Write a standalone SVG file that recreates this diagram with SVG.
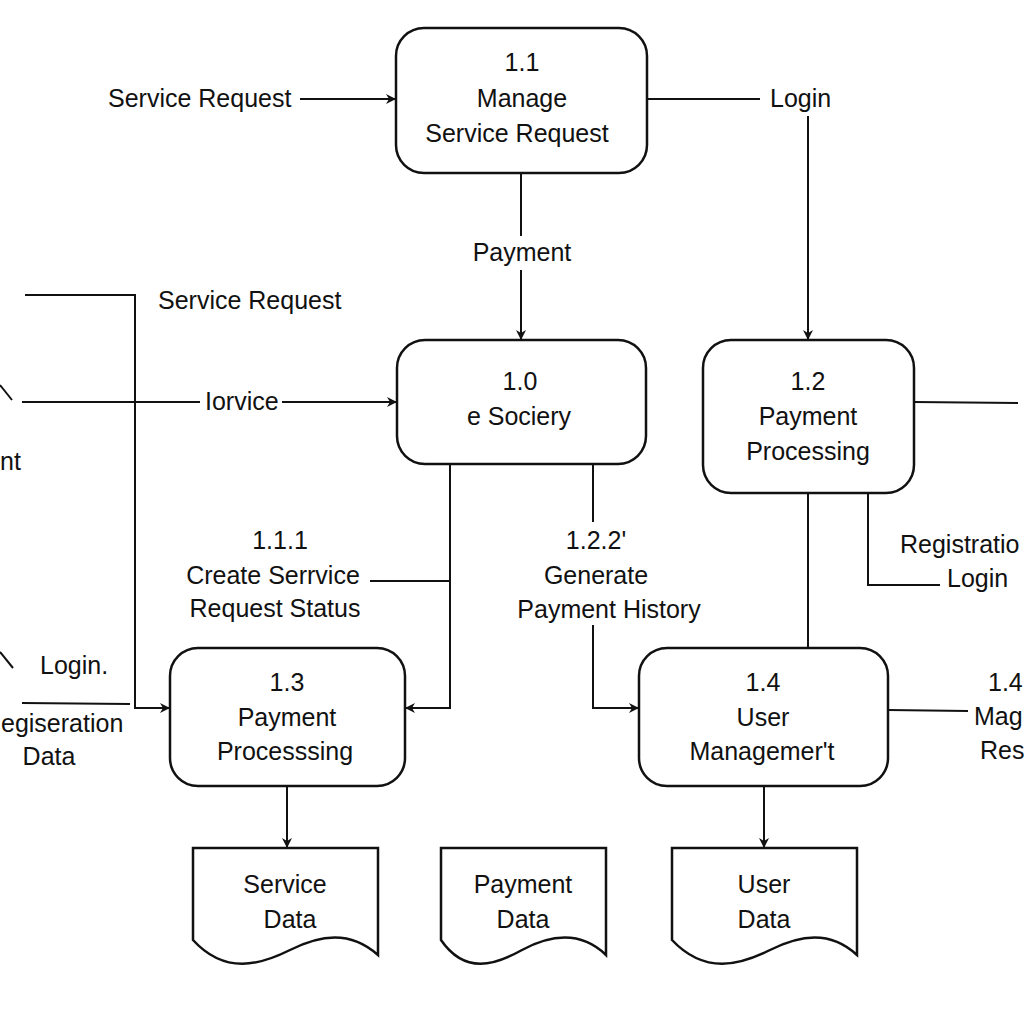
<svg xmlns="http://www.w3.org/2000/svg" width="1024" height="1024" viewBox="0 0 1024 1024">
<style>
text{font-family:"Liberation Sans",Arial,sans-serif;font-size:25px;fill:#111;}
.c{text-anchor:middle;}
.box{fill:#fff;stroke:#111;stroke-width:2.5;}
.ln{fill:none;stroke:#111;stroke-width:2;}
.doc{fill:#fff;stroke:#111;stroke-width:2.5;}
</style>
<defs>
<marker id="ah" markerWidth="10" markerHeight="10" refX="9" refY="5" orient="auto" markerUnits="userSpaceOnUse" viewBox="0 0 10 10">
<path d="M0,0 L10,5 L0,10 L3,5 Z" fill="#111"/>
</marker>
</defs>
<rect width="1024" height="1024" fill="#fff"/>
<g id="connectors">
<line class="ln" x1="300" y1="99" x2="395" y2="99" marker-end="url(#ah)"/>
<line class="ln" x1="647" y1="99" x2="760" y2="99"/>
<line class="ln" x1="808" y1="116" x2="808" y2="339" marker-end="url(#ah)"/>
<line class="ln" x1="521" y1="173" x2="521" y2="236"/>
<line class="ln" x1="521" y1="270" x2="521" y2="339" marker-end="url(#ah)"/>
<polyline class="ln" points="25,295 135,295 135,708 169,708" marker-end="url(#ah)"/>
<line class="ln" x1="22" y1="402" x2="200" y2="402"/>
<line class="ln" x1="282" y1="402" x2="396" y2="402" marker-end="url(#ah)"/>
<line class="ln" x1="0" y1="385" x2="12" y2="400"/>
<line class="ln" x1="0" y1="652" x2="13" y2="668"/>
<line class="ln" x1="22" y1="703" x2="130" y2="704"/>
<polyline class="ln" points="450,464 450,708 406,708" marker-end="url(#ah)"/>
<line class="ln" x1="370" y1="581" x2="450" y2="581"/>
<line class="ln" x1="593" y1="464" x2="593" y2="522"/>
<polyline class="ln" points="593,625 593,708 638,708" marker-end="url(#ah)"/>
<line class="ln" x1="808" y1="493" x2="808" y2="648"/>
<polyline class="ln" points="868,493 868,585 940,585"/>
<line class="ln" x1="914" y1="402" x2="1018" y2="403"/>
<line class="ln" x1="888" y1="710" x2="968" y2="711"/>
<line class="ln" x1="287" y1="786" x2="287" y2="847" marker-end="url(#ah)"/>
<line class="ln" x1="764" y1="786" x2="764" y2="847" marker-end="url(#ah)"/>
</g>
<g id="labels">
<text x="108" y="107">Service Request</text>
<text x="770" y="107">Login</text>
<text class="c" x="522" y="261">Payment</text>
<text x="158" y="309">Service Request</text>
<text x="205" y="410">Iorvice</text>
<text x="0" y="470">nt</text>
<text x="40" y="674">Login.</text>
<text x="1" y="732">egiseration</text>
<text class="c" x="49" y="765">Data</text>
<text class="c" x="280" y="549">1.1.1</text>
<text class="c" x="273" y="584">Create Serrvice</text>
<text class="c" x="275" y="617">Request Status</text>
<text class="c" x="596" y="549">1.2.2'</text>
<text class="c" x="596" y="584">Generate</text>
<text class="c" x="609" y="618">Payment History</text>
<text x="900" y="553">Registratio</text>
<text x="947" y="587">Login</text>
<text x="988" y="691">1.4</text>
<text x="974" y="725">Mag</text>
<text x="980" y="759">Res</text>
</g>
<g id="n11">
<rect class="box" x="396" y="28" width="251" height="145" rx="28"/>
<text class="c" x="522" y="71">1.1</text>
<text class="c" x="522" y="107">Manage</text>
<text class="c" x="517" y="142">Service Request</text>
</g>
<g id="n10">
<rect class="box" x="397" y="340" width="249" height="124" rx="28"/>
<text class="c" x="520" y="390">1.0</text>
<text class="c" x="519" y="425">e Sociery</text>
</g>
<g id="n12">
<rect class="box" x="703" y="340" width="211" height="153" rx="28"/>
<text class="c" x="808" y="390">1.2</text>
<text class="c" x="808" y="425">Payment</text>
<text class="c" x="808" y="460">Processing</text>
</g>
<g id="n13">
<rect class="box" x="170" y="648" width="235" height="138" rx="28"/>
<text class="c" x="287" y="691">1.3</text>
<text class="c" x="287" y="726">Payment</text>
<text class="c" x="285" y="760">Processsing</text>
</g>
<g id="n14">
<rect class="box" x="639" y="648" width="249" height="138" rx="28"/>
<text class="c" x="763" y="691">1.4</text>
<text class="c" x="763" y="726">User</text>
<text class="c" x="762" y="760">Managemer't</text>
</g>
<g id="d1">
<path class="doc" d="M193,848 H378 V955 C350,930 320,935 290,950 C260,965 225,975 193,940 Z"/>
<text class="c" x="285" y="893">Service</text>
<text class="c" x="290" y="928">Data</text>
</g>
<g id="d2">
<path class="doc" d="M441,848 H606 V955 C580,930 550,935 522,950 C495,965 465,975 441,940 Z"/>
<text class="c" x="523" y="893">Payment</text>
<text class="c" x="523" y="928">Data</text>
</g>
<g id="d3">
<path class="doc" d="M672,848 H857 V955 C830,930 800,935 770,950 C740,965 705,975 672,940 Z"/>
<text class="c" x="764" y="893">User</text>
<text class="c" x="764" y="928">Data</text>
</g>
</svg>
